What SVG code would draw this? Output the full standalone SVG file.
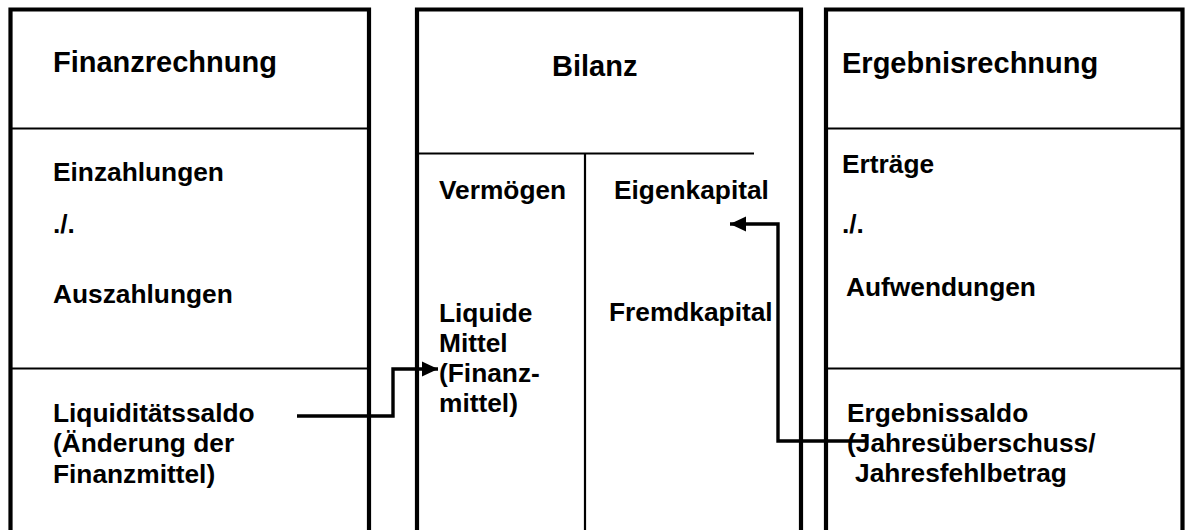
<svg xmlns="http://www.w3.org/2000/svg" width="1185" height="530" viewBox="0 0 1185 530">
<style>
.frame{fill:none;stroke:#000;stroke-width:4.2;stroke-linejoin:miter}
.div{fill:none;stroke:#000;stroke-width:2.2}
.conn{fill:none;stroke:#000;stroke-width:3.4;stroke-linejoin:miter}
text{font-family:"Liberation Sans",Arial,sans-serif;font-weight:bold;fill:#000}
.t{font-size:29px}
.b{font-size:26.3px}
</style>
<defs>
<marker id="ah" markerUnits="userSpaceOnUse" markerWidth="16" markerHeight="16" viewBox="0 0 14 14" refX="14" refY="7" orient="auto">
<path d="M0,0.5 L14,7 L0,13.5 Z" fill="#000"/>
</marker>
</defs>
<rect width="1185" height="530" fill="#fff"/>
<g id="finanzrechnung">
<path class="frame" d="M10.5,532 V9.5 H369 V532"/>
<line class="div" x1="10.5" y1="128.5" x2="369" y2="128.5"/>
<line class="div" x1="10.5" y1="368.5" x2="369" y2="368.5"/>
<text class="t" x="53" y="72">Finanzrechnung</text>
<text class="b" x="53" y="181">Einzahlungen</text>
<text class="b" x="53" y="233">./.</text>
<text class="b" x="53" y="303">Auszahlungen</text>
<text class="b" x="53" y="422">Liquiditätssaldo</text>
<text class="b" x="53" y="452">(Änderung der</text>
<text class="b" x="53" y="482.5">Finanzmittel)</text>
</g>
<g id="bilanz">
<path class="frame" d="M417,532 V9.5 H801 V532"/>
<line class="div" x1="417" y1="153.5" x2="754" y2="153.5"/>
<line class="div" x1="585" y1="153.5" x2="585" y2="532"/>
<text class="t" x="552" y="76">Bilanz</text>
<text class="b" x="439" y="199">Vermögen</text>
<text class="b" x="614" y="199">Eigenkapital</text>
<text class="b" x="439" y="321.5">Liquide</text>
<text class="b" x="439" y="351.5">Mittel</text>
<text class="b" x="439" y="381.5">(Finanz-</text>
<text class="b" x="439" y="411.5">mittel)</text>
<text class="b" x="609" y="321">Fremdkapital</text>
</g>
<g id="ergebnisrechnung">
<path class="frame" d="M826,532 V9.5 H1182.5 V532"/>
<line class="div" x1="826" y1="128.5" x2="1182.5" y2="128.5"/>
<line class="div" x1="826" y1="368.5" x2="1182.5" y2="368.5"/>
<text class="t" x="842" y="72.5">Ergebnisrechnung</text>
<text class="b" x="842" y="173">Erträge</text>
<text class="b" x="842" y="233">./.</text>
<text class="b" x="846" y="296">Aufwendungen</text>
<text class="b" x="847" y="422">Ergebnissaldo</text>
<text class="b" x="847" y="452">(Jahresüberschuss/</text>
<text class="b" x="855" y="482">Jahresfehlbetrag</text>
</g>
<g id="connectors">
<path class="conn" d="M297,416 H393 V369 H438" marker-end="url(#ah)"/>
<path class="conn" d="M868,441 H778 V224 H730" marker-end="url(#ah)"/>
</g>
</svg>
